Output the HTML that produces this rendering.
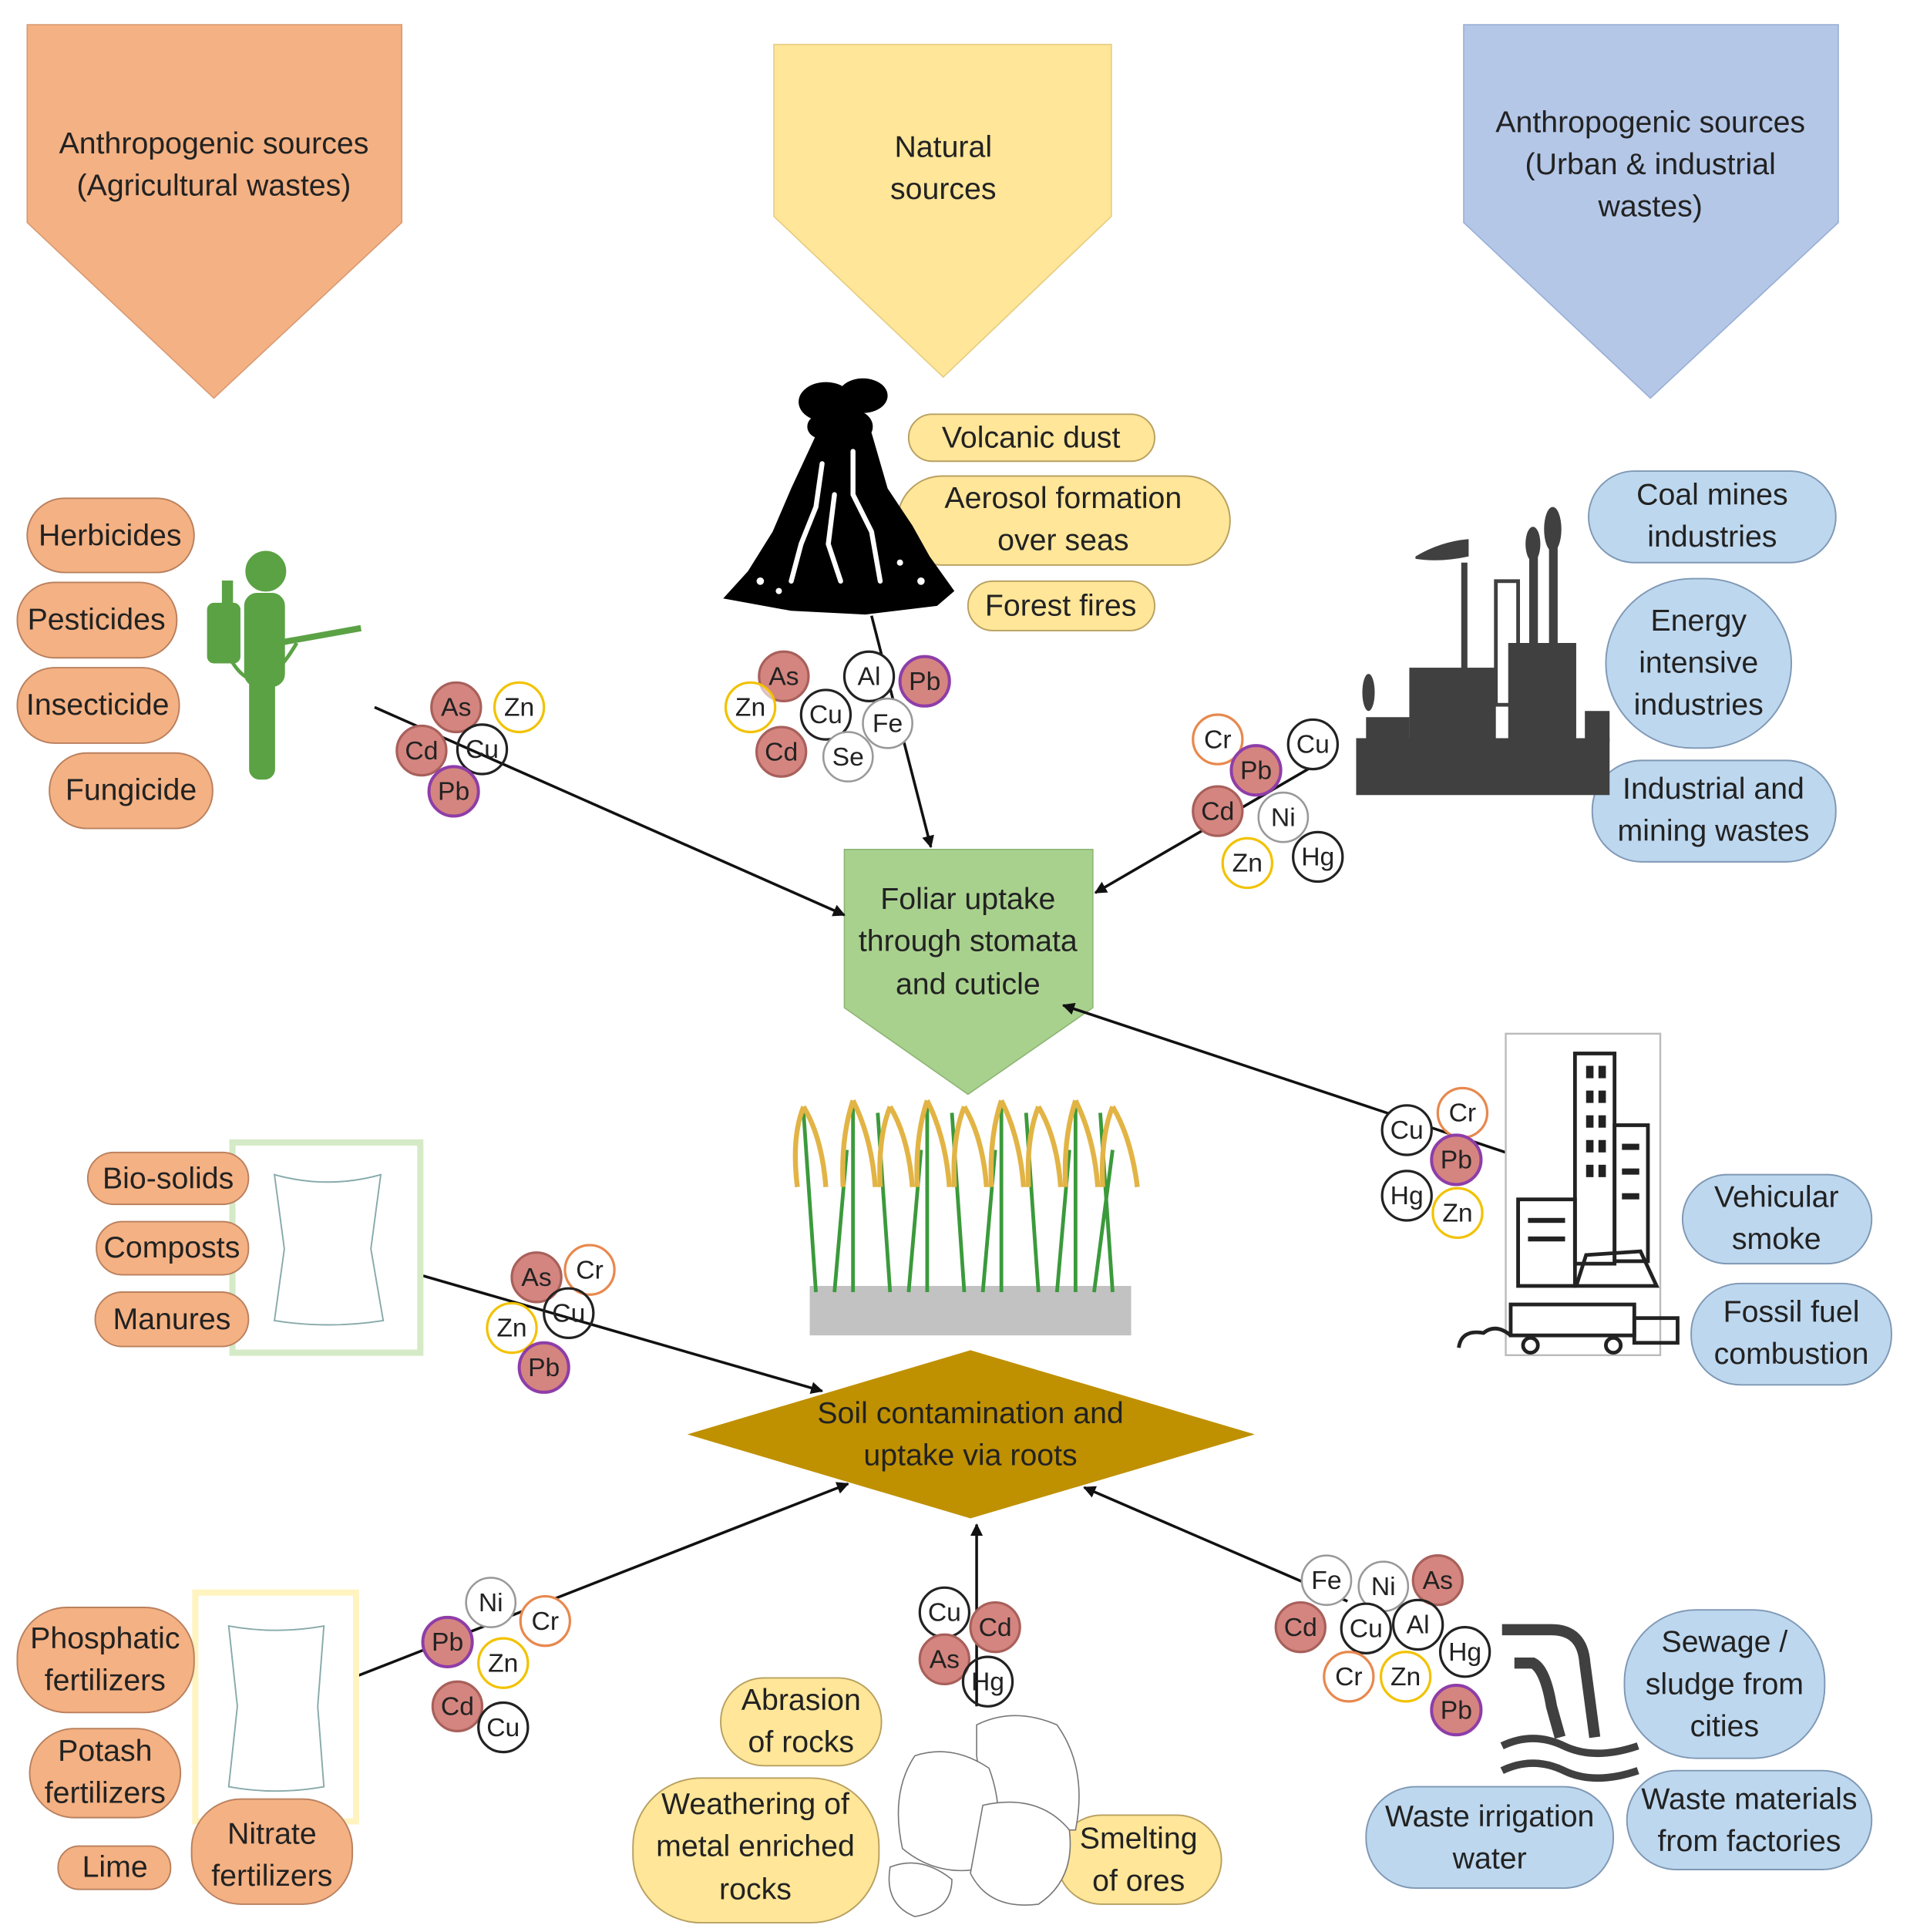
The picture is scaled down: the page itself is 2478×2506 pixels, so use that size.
<!DOCTYPE html>
<html><head><meta charset="utf-8"><style>
html,body{margin:0;padding:0;background:#fff}
svg{display:block}
text{font-family:"Liberation Sans",sans-serif;fill:#222}
.t{font-size:24.5px;text-anchor:middle}
.e{font-size:21px;text-anchor:middle}
.po{fill:#F4B183;stroke:#B9805E;stroke-width:1.2}
.py{fill:#FFE699;stroke:#B8A060;stroke-width:1.2}
.pb{fill:#BDD7EE;stroke:#7F98B5;stroke-width:1.2}
.f{fill:#D4857F;stroke:#A8605B;stroke-width:2}
.fp{fill:#D4857F;stroke:#8E3DA8;stroke-width:2.5}
.zn{fill:#fff;stroke:#F2C200;stroke-width:2}
.cr{fill:#fff;stroke:#E8884E;stroke-width:2}
.bk{fill:#fff;stroke:#222;stroke-width:2}
.gy{fill:#fff;stroke:#999;stroke-width:1.6}
.ar{stroke:#111;stroke-width:2.2;fill:none;marker-end:url(#ah)}
</style></head><body>
<svg width="2478" height="2506" viewBox="0 0 1545 1562.5" preserveAspectRatio="none" xmlns="http://www.w3.org/2000/svg">
<defs><marker id="ah" markerWidth="10" markerHeight="10" refX="9" refY="5" orient="auto" markerUnits="userSpaceOnUse" viewBox="0 0 10 10"><path d="M0,0 L10,5 L0,10 z" fill="#111"/></marker></defs>

<!-- big arrows -->
<polygon points="22,20 325,20 325,180 173,322 22,180" fill="#F4B183" stroke="#D89A72"/>
<text class="t" x="173" y="124">Anthropogenic sources</text><text class="t" x="173" y="158">(Agricultural wastes)</text>
<polygon points="626,36 899,36 899,175 763,305 626,175" fill="#FFE699" stroke="#E5CC80"/>
<text class="t" x="763" y="127">Natural</text><text class="t" x="763" y="161">sources</text>
<polygon points="1184,20 1487,20 1487,180 1335,322 1184,180" fill="#B4C7E7" stroke="#98AED5"/>
<text class="t" x="1335" y="107">Anthropogenic sources</text><text class="t" x="1335" y="141">(Urban &amp; industrial</text><text class="t" x="1335" y="175">wastes)</text>

<!-- green foliar -->
<polygon points="683,687 884,687 884,815 783,885 683,815" fill="#A9D18E" stroke="#8DB574"/>
<text class="t" x="783" y="735">Foliar uptake</text><text class="t" x="783" y="769">through stomata</text><text class="t" x="783" y="804">and cuticle</text>
<!-- diamond -->
<polygon points="556,1160 785,1092 1015,1160 785,1228" fill="#BF9000"/>
<text class="t" x="785" y="1151">Soil contamination and</text><text class="t" x="785" y="1185">uptake via roots</text>

<!-- arrows -->
<line class="ar" x1="303" y1="572" x2="683" y2="740"/>
<line class="ar" x1="705" y1="498" x2="753" y2="685"/>
<line class="ar" x1="1065" y1="618" x2="886" y2="722"/>
<line class="ar" x1="1218" y1="932" x2="860" y2="813"/>
<line class="ar" x1="336" y1="1030" x2="665" y2="1125"/>
<line class="ar" x1="285" y1="1357" x2="686" y2="1200"/>
<line class="ar" x1="790" y1="1380" x2="790" y2="1233"/>
<line class="ar" x1="1090" y1="1295" x2="877" y2="1203"/>

<!-- bags (behind pills) -->
<rect x="188" y="924" width="152" height="170" fill="#fff" stroke="#D5EAC6" stroke-width="5"/>
<path d="M222,950 Q265,962 308,950 L300,1010 L310,1068 Q265,1075 222,1068 L230,1010 Z" fill="none" stroke="#8AA" stroke-width="1.2"/>
<rect x="158" y="1288" width="130" height="185" fill="#fff" stroke="#FFF3C0" stroke-width="5"/>
<path d="M185,1315 Q223,1322 262,1315 L257,1380 L262,1445 Q223,1452 185,1445 L192,1380 Z" fill="none" stroke="#8AA" stroke-width="1.2"/>

<!-- orange pills -->
<rect class="po" x="22" y="403" width="135" height="60" rx="30"/><text class="t" x="89" y="441">Herbicides</text>
<rect class="po" x="14" y="471" width="129" height="61" rx="30"/><text class="t" x="78" y="509">Pesticides</text>
<rect class="po" x="14" y="540" width="131" height="61" rx="30"/><text class="t" x="79" y="578">Insecticide</text>
<rect class="po" x="40" y="609" width="132" height="61" rx="30"/><text class="t" x="106" y="647">Fungicide</text>
<rect class="po" x="71" y="932" width="130" height="42" rx="21"/><text class="t" x="136" y="961">Bio-solids</text>
<rect class="po" x="78" y="988" width="123" height="43" rx="21"/><text class="t" x="139" y="1017">Composts</text>
<rect class="po" x="77" y="1045" width="124" height="44" rx="22"/><text class="t" x="139" y="1075">Manures</text>
<rect class="po" x="14" y="1300" width="143" height="85" rx="40"/><text class="t" x="85" y="1333">Phosphatic</text><text class="t" x="85" y="1367">fertilizers</text>
<rect class="po" x="24" y="1398" width="122" height="72" rx="36"/><text class="t" x="85" y="1424">Potash</text><text class="t" x="85" y="1458">fertilizers</text>
<rect class="po" x="47" y="1493" width="91" height="35" rx="17"/><text class="t" x="93" y="1518">Lime</text>
<rect class="po" x="155" y="1455" width="130" height="85" rx="40"/><text class="t" x="220" y="1491">Nitrate</text><text class="t" x="220" y="1525">fertilizers</text>

<!-- yellow pills -->
<rect class="py" x="735" y="335" width="199" height="38" rx="19"/><text class="t" x="834" y="362">Volcanic dust</text>
<rect class="py" x="726" y="385" width="269" height="72" rx="36"/><text class="t" x="860" y="411">Aerosol formation</text><text class="t" x="860" y="445">over seas</text>
<rect class="py" x="783" y="470" width="151" height="40" rx="20"/><text class="t" x="858" y="498">Forest fires</text>
<rect class="py" x="583" y="1357" width="130" height="71" rx="35"/><text class="t" x="648" y="1383">Abrasion</text><text class="t" x="648" y="1417">of rocks</text>
<rect class="py" x="512" y="1438" width="199" height="117" rx="55"/><text class="t" x="611" y="1467">Weathering of</text><text class="t" x="611" y="1501">metal enriched</text><text class="t" x="611" y="1536">rocks</text>
<rect class="py" x="855" y="1468" width="133" height="72" rx="36"/><text class="t" x="921" y="1495">Smelting</text><text class="t" x="921" y="1529">of ores</text>

<!-- blue pills -->
<rect class="pb" x="1285" y="381" width="200" height="74" rx="37"/><text class="t" x="1385" y="408">Coal mines</text><text class="t" x="1385" y="442">industries</text>
<rect class="pb" x="1299" y="468" width="150" height="137" rx="70"/><text class="t" x="1374" y="510">Energy</text><text class="t" x="1374" y="544">intensive</text><text class="t" x="1374" y="578">industries</text>
<rect class="pb" x="1288" y="615" width="197" height="82" rx="40"/><text class="t" x="1386" y="646">Industrial and</text><text class="t" x="1386" y="680">mining wastes</text>
<rect class="pb" x="1361" y="950" width="153" height="72" rx="36"/><text class="t" x="1437" y="976">Vehicular</text><text class="t" x="1437" y="1010">smoke</text>
<rect class="pb" x="1368" y="1038" width="162" height="82" rx="40"/><text class="t" x="1449" y="1069">Fossil fuel</text><text class="t" x="1449" y="1103">combustion</text>
<rect class="pb" x="1314" y="1302" width="162" height="120" rx="58"/><text class="t" x="1395" y="1336">Sewage /</text><text class="t" x="1395" y="1370">sludge from</text><text class="t" x="1395" y="1404">cities</text>
<rect class="pb" x="1105" y="1445" width="200" height="82" rx="40"/><text class="t" x="1205" y="1477">Waste irrigation</text><text class="t" x="1205" y="1511">water</text>
<rect class="pb" x="1316" y="1432" width="198" height="80" rx="40"/><text class="t" x="1415" y="1463">Waste materials</text><text class="t" x="1415" y="1497">from factories</text>

<!-- sprayer person -->
<g fill="#5BA245" stroke="#5BA245">
<circle cx="215" cy="462" r="16"/>
<rect x="198" y="480" width="32" height="75" rx="10"/>
<rect x="202" y="540" width="20" height="90" rx="8"/>
<rect x="168" y="488" width="26" height="48" rx="5"/>
<line x1="225" y1="520" x2="292" y2="508" stroke-width="5"/>
<path d="M180,520 Q205,580 240,520" fill="none" stroke-width="3"/>
<rect x="180" y="470" width="8" height="20"/>
</g>

<!-- volcano -->
<g fill="#000">
<ellipse cx="668" cy="325" rx="22" ry="16"/><ellipse cx="698" cy="320" rx="20" ry="14"/><ellipse cx="688" cy="345" rx="18" ry="14"/><ellipse cx="665" cy="345" rx="12" ry="10"/>
<path d="M660,352 L705,350 L718,395 L738,425 L752,450 L772,478 L758,490 L700,497 L640,494 L585,484 L605,462 L625,430 L640,395 Z"/>
</g>
<g fill="none" stroke="#fff" stroke-width="4" stroke-linecap="round">
<path d="M665,375 L660,410 L648,440 L640,470"/>
<path d="M690,365 L690,400 L705,430 L712,470"/>
<path d="M675,400 L670,440 L680,470"/>
</g>
<g fill="#fff"><circle cx="615" cy="470" r="3"/><circle cx="630" cy="478" r="2.5"/><circle cx="745" cy="470" r="3"/><circle cx="728" cy="455" r="2.5"/></g>

<!-- factory -->
<g fill="#404040">
<rect x="1097" y="597" width="205" height="46"/>
<rect x="1140" y="540" width="70" height="60"/>
<rect x="1220" y="520" width="55" height="80"/>
<rect x="1182" y="455" width="5" height="100"/>
<path d="M1145,450 Q1165,438 1188,436 L1188,450 Q1165,455 1145,452z"/>
<rect x="1210" y="470" width="18" height="100" fill="none" stroke="#404040" stroke-width="3"/>
<rect x="1237" y="440" width="7" height="95"/><ellipse cx="1240" cy="440" rx="6" ry="14"/>
<rect x="1253" y="430" width="7" height="105"/><ellipse cx="1256" cy="428" rx="7" ry="18"/>
<rect x="1105" y="580" width="35" height="20"/><ellipse cx="1107" cy="560" rx="5" ry="15"/>
<rect x="1282" y="575" width="20" height="25"/>
</g>

<!-- city -->
<rect x="1218" y="836" width="125" height="260" fill="none" stroke="#bbb" stroke-width="1.5"/>
<g fill="none" stroke="#222" stroke-width="3">
<rect x="1274" y="852" width="32" height="170"/>
<rect x="1306" y="910" width="27" height="110"/>
<rect x="1228" y="970" width="46" height="70"/>
<path d="M1275,1040 L1283,1015 L1327,1012 L1340,1040 Z"/>
<rect x="1222" y="1055" width="100" height="25"/>
<circle cx="1238" cy="1088" r="6"/><circle cx="1305" cy="1088" r="6"/>
<path d="M1180,1090 Q1182,1075 1200,1078 Q1210,1070 1222,1080"/>
<rect x="1322" y="1066" width="35" height="20"/>
</g>
<g fill="#222"><rect x="1283" y="862" width="6" height="10"/><rect x="1293" y="862" width="6" height="10"/><rect x="1283" y="882" width="6" height="10"/><rect x="1293" y="882" width="6" height="10"/><rect x="1283" y="902" width="6" height="10"/><rect x="1293" y="902" width="6" height="10"/><rect x="1283" y="922" width="6" height="10"/><rect x="1293" y="922" width="6" height="10"/><rect x="1283" y="942" width="6" height="10"/><rect x="1293" y="942" width="6" height="10"/><rect x="1312" y="925" width="14" height="5"/><rect x="1312" y="945" width="14" height="5"/><rect x="1312" y="965" width="14" height="5"/><rect x="1236" y="985" width="30" height="4"/><rect x="1236" y="1000" width="30" height="4"/></g>

<!-- rice -->
<g>
<rect x="655" y="1040" width="260" height="40" fill="#777" opacity="0.45"/>
<g stroke="#3B9A3B" stroke-width="3" fill="none">
<path d="M660,1045 L650,900 M690,1045 L690,895 M720,1045 L710,900 M750,1045 L750,895 M780,1045 L770,900 M810,1045 L810,895 M840,1045 L830,900 M870,1045 L870,895 M900,1045 L890,900 M675,1045 L685,930 M735,1045 L745,930 M795,1045 L805,930 M855,1045 L865,930 M885,1045 L900,930"/>
</g>
<g stroke="#E2B445" stroke-width="4" fill="none">
<path d="M650,895 Q640,920 645,960 M650,895 Q665,920 668,960 M690,890 Q680,920 682,960 M690,890 Q705,920 708,960 M720,895 Q710,920 712,960 M720,895 Q735,920 738,960 M750,890 Q740,920 742,960 M750,890 Q765,920 768,960 M780,895 Q770,920 772,960 M780,895 Q795,920 798,960 M810,890 Q800,920 802,960 M810,890 Q825,920 828,960 M840,895 Q830,920 832,960 M840,895 Q855,920 858,960 M870,890 Q860,920 862,960 M870,890 Q885,920 888,960 M900,895 Q890,920 892,960 M900,895 Q915,920 920,960"/>
</g>
</g>

<!-- rocks -->
<g fill="#fff" stroke="#777" stroke-width="1">
<path d="M790,1395 Q820,1380 855,1395 Q880,1430 870,1480 L830,1480 Q795,1460 790,1420Z"/>
<path d="M740,1420 Q770,1410 800,1430 Q815,1470 800,1510 Q760,1520 730,1495 Q720,1450 740,1420Z"/>
<path d="M795,1460 Q840,1450 865,1480 Q870,1520 840,1540 Q800,1545 785,1515Z"/>
<path d="M720,1510 Q745,1500 770,1520 Q770,1545 740,1550 Q715,1540 720,1510Z"/>
</g>

<!-- sewage pipe -->
<g fill="none" stroke="#404040" stroke-width="9">
<path d="M1215,1318 L1255,1318 Q1280,1318 1282,1345 L1290,1405"/>
<path d="M1225,1345 L1240,1345 Q1250,1350 1255,1380 L1262,1405"/>
<path d="M1215,1412 Q1240,1400 1265,1412 Q1290,1424 1325,1412" stroke-width="6"/>
<path d="M1215,1432 Q1240,1420 1265,1432 Q1290,1444 1325,1432" stroke-width="6"/>
</g>

<!-- elements -->
<g>
<circle class="zn" cx="420" cy="572" r="20"/><text class="e" x="420" y="579">Zn</text>
<circle class="f" cx="369" cy="572" r="20"/><text class="e" x="369" y="579">As</text>
<circle class="f" cx="341" cy="607" r="20"/><text class="e" x="341" y="614">Cd</text>
<circle class="bk" cx="390" cy="606" r="20" fill-opacity="0"/><text class="e" x="390" y="613">Cu</text>
<circle class="fp" cx="367" cy="640" r="20"/><text class="e" x="367" y="647">Pb</text>

<circle class="f" cx="634" cy="547" r="20"/><text class="e" x="634" y="554">As</text>
<circle class="zn" cx="607" cy="572" r="20" fill-opacity="0.6"/><text class="e" x="607" y="579">Zn</text>
<circle class="bk" cx="703" cy="547" r="20"/><text class="e" x="703" y="554">Al</text>
<circle class="fp" cx="748" cy="551" r="20"/><text class="e" x="748" y="558">Pb</text>
<circle class="bk" cx="668" cy="578" r="20"/><text class="e" x="668" y="585">Cu</text>
<circle class="gy" cx="718" cy="585" r="20"/><text class="e" x="718" y="592">Fe</text>
<circle class="f" cx="632" cy="608" r="20"/><text class="e" x="632" y="615">Cd</text>
<circle class="gy" cx="686" cy="612" r="20"/><text class="e" x="686" y="619">Se</text>

<circle class="cr" cx="985" cy="598" r="20"/><text class="e" x="985" y="605">Cr</text>
<circle class="bk" cx="1062" cy="602" r="20"/><text class="e" x="1062" y="609">Cu</text>
<circle class="fp" cx="1016" cy="623" r="20"/><text class="e" x="1016" y="630">Pb</text>
<circle class="f" cx="985" cy="656" r="20"/><text class="e" x="985" y="663">Cd</text>
<circle class="gy" cx="1038" cy="661" r="20"/><text class="e" x="1038" y="668">Ni</text>
<circle class="zn" cx="1009" cy="698" r="20"/><text class="e" x="1009" y="705">Zn</text>
<circle class="bk" cx="1066" cy="693" r="20"/><text class="e" x="1066" y="700">Hg</text>

<circle class="cr" cx="1183" cy="900" r="20"/><text class="e" x="1183" y="907">Cr</text>
<circle class="bk" cx="1138" cy="914" r="20"/><text class="e" x="1138" y="921">Cu</text>
<circle class="fp" cx="1178" cy="938" r="20"/><text class="e" x="1178" y="945">Pb</text>
<circle class="bk" cx="1138" cy="967" r="20"/><text class="e" x="1138" y="974">Hg</text>
<circle class="zn" cx="1179" cy="981" r="20" fill-opacity="0.6"/><text class="e" x="1179" y="988">Zn</text>

<circle class="cr" cx="477" cy="1027" r="20"/><text class="e" x="477" y="1034">Cr</text>
<circle class="f" cx="434" cy="1033" r="20"/><text class="e" x="434" y="1040">As</text>
<circle class="bk" cx="460" cy="1062" r="20" fill-opacity="0"/><text class="e" x="460" y="1069">Cu</text>
<circle class="zn" cx="414" cy="1074" r="20" fill-opacity="0.6"/><text class="e" x="414" y="1081">Zn</text>
<circle class="fp" cx="440" cy="1106" r="20"/><text class="e" x="440" y="1113">Pb</text>

<circle class="gy" cx="397" cy="1296" r="20"/><text class="e" x="397" y="1303">Ni</text>
<circle class="cr" cx="441" cy="1311" r="20"/><text class="e" x="441" y="1318">Cr</text>
<circle class="fp" cx="362" cy="1328" r="20"/><text class="e" x="362" y="1335">Pb</text>
<circle class="zn" cx="407" cy="1345" r="20"/><text class="e" x="407" y="1352">Zn</text>
<circle class="f" cx="370" cy="1380" r="20"/><text class="e" x="370" y="1387">Cd</text>
<circle class="bk" cx="407" cy="1397" r="20" fill-opacity="0.6"/><text class="e" x="407" y="1404">Cu</text>

<circle class="bk" cx="764" cy="1304" r="20"/><text class="e" x="764" y="1311">Cu</text>
<circle class="f" cx="805" cy="1316" r="20"/><text class="e" x="805" y="1323">Cd</text>
<circle class="f" cx="764" cy="1342" r="20"/><text class="e" x="764" y="1349">As</text>
<circle class="bk" cx="799" cy="1360" r="20" fill-opacity="0"/><text class="e" x="799" y="1367">Hg</text>

<circle class="gy" cx="1073" cy="1278" r="20"/><text class="e" x="1073" y="1285">Fe</text>
<circle class="gy" cx="1119" cy="1283" r="20"/><text class="e" x="1119" y="1290">Ni</text>
<circle class="f" cx="1163" cy="1278" r="20"/><text class="e" x="1163" y="1285">As</text>
<circle class="f" cx="1052" cy="1316" r="20"/><text class="e" x="1052" y="1323">Cd</text>
<circle class="bk" cx="1105" cy="1317" r="20"/><text class="e" x="1105" y="1324">Cu</text>
<circle class="bk" cx="1147" cy="1314" r="20" fill-opacity="0"/><text class="e" x="1147" y="1321">Al</text>
<circle class="bk" cx="1185" cy="1336" r="20" fill-opacity="0"/><text class="e" x="1185" y="1343">Hg</text>
<circle class="cr" cx="1091" cy="1356" r="20"/><text class="e" x="1091" y="1363">Cr</text>
<circle class="zn" cx="1137" cy="1356" r="20"/><text class="e" x="1137" y="1363">Zn</text>
<circle class="fp" cx="1178" cy="1383" r="20"/><text class="e" x="1178" y="1390">Pb</text>
</g>
</svg>
</body></html>
